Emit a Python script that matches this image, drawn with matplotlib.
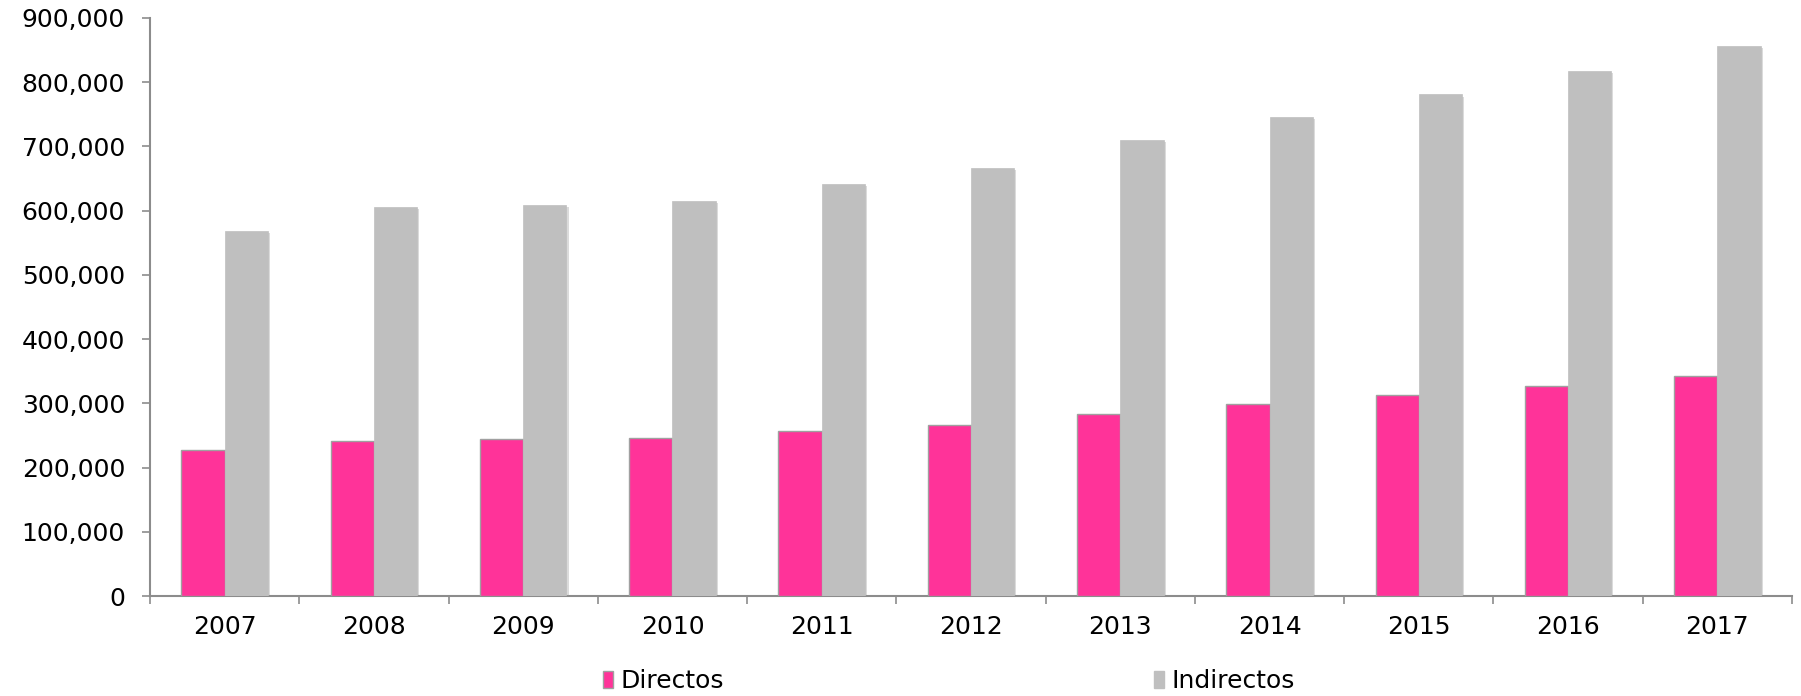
import matplotlib
matplotlib.use("Agg")
import matplotlib.pyplot as plt
import matplotlib.patheffects as pe
from matplotlib.patches import Patch
from matplotlib.ticker import FuncFormatter, MultipleLocator
import numpy as np

## data
years = ["2007", "2008", "2009", "2010", "2011", "2012", "2013", "2014", "2015", "2016", "2017"]
directos = [227000, 242000, 244000, 246000, 257000, 266000, 284000, 299000, 313000, 327000, 343000]
indirectos = [569000, 606000, 609000, 615000, 642000, 667000, 710000, 746000, 781000, 818000, 856000]

pink = "#FF3399"
grey = "#BFBFBF"
axis_col = "#8C8C8C"
fs = 18

plt.rcParams['font.family'] = ['DejaVu Sans']

fig = plt.figure(figsize=(18.01, 6.96), dpi=100)
ax = fig.add_axes([150/1801, 1-596/696, (1792-150)/1801, (596-18)/696])

x = np.arange(len(years))
w = 0.29
shadow = [pe.SimplePatchShadow(offset=(1.5, -1.5), shadow_rgbFace="#9a9a9a", alpha=0.35), pe.Normal()]

b1 = ax.bar(x - w/2, directos, width=w, color=pink, edgecolor="#A0A0A0", linewidth=1.0, zorder=3)
b2 = ax.bar(x + w/2, indirectos, width=w, color=grey, edgecolor=grey, linewidth=0.5, zorder=3)
for b in list(b1) + list(b2):
    b.set_path_effects(shadow)

ax.set_xlim(-0.5, len(years) - 0.5)
ax.set_ylim(0, 900000)
ax.yaxis.set_major_locator(MultipleLocator(100000))
ax.yaxis.set_major_formatter(FuncFormatter(lambda v, p: f"{int(v):,}"))

## year labels at centres, tick marks at the category borders
ax.set_xticks(x)
ax.set_xticklabels(years)
ax.set_xticks(np.arange(-0.5, len(years)), minor=True)
ax.tick_params(axis="x", which="major", length=0, pad=14, labelsize=fs)
ax.tick_params(axis="x", which="minor", length=6, width=1.2, color=axis_col, direction="out")
ax.tick_params(axis="y", length=6, width=1.2, color=axis_col, pad=12, labelsize=fs)

for s in ["top", "right"]:
    ax.spines[s].set_visible(False)
for s in ["left", "bottom"]:
    ax.spines[s].set_color(axis_col)
    ax.spines[s].set_linewidth(1.5)

## legend, two entries spread like the original
leg_kw = dict(frameon=False, fontsize=fs, handlelength=0.4, handleheight=0.7,
              handletextpad=0.3, borderpad=0, borderaxespad=0, loc="center left")
fig.legend(handles=[Patch(facecolor=pink, edgecolor="#A0A0A0", label="Directos")],
           bbox_to_anchor=(603/1801, 1-681/696), **leg_kw)
fig.legend(handles=[Patch(facecolor=grey, edgecolor=grey, label="Indirectos")],
           bbox_to_anchor=(1154/1801, 1-681/696), **leg_kw)

fig.savefig("out.png", dpi=100)
